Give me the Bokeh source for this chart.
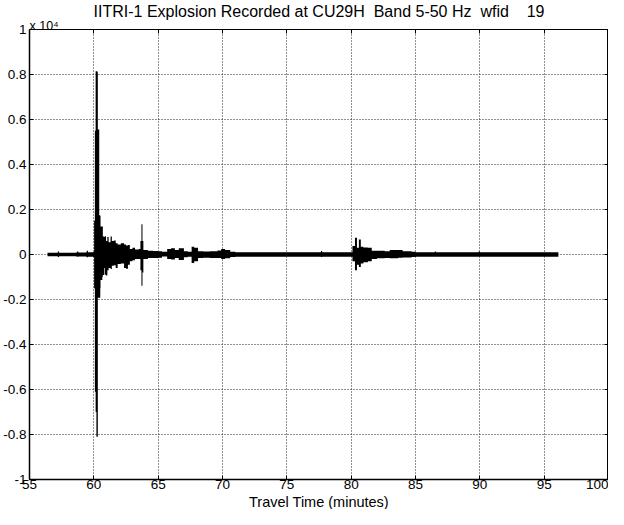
from bokeh.plotting import figure
from bokeh.models import FixedTicker, LinearAxis, Title, ColumnDataSource, Range1d
from bokeh.embed import file_html
from bokeh.resources import INLINE

# Envelope of the recorded trace (travel time in minutes, counts)
time_min = [56.40, 57.10, 57.20, 57.30, 58.60, 58.70, 58.80, 59.40, 59.45, 59.55,
            59.95, 60.02, 60.08, 60.14, 60.20, 60.28, 60.31, 60.40, 60.42, 60.50,
            60.52, 60.66, 60.70, 60.80, 60.85, 60.95, 61.05, 61.15, 61.30, 61.40,
            61.55, 61.70, 61.85, 62.10, 62.35, 62.50, 62.65, 62.80, 63.00, 63.20,
            63.50, 63.62, 63.70, 63.78, 63.85, 64.20, 64.60, 65.00, 65.30, 65.70,
            66.00, 66.30, 66.60, 67.00, 67.30, 67.60, 67.80, 68.10, 68.50, 69.00,
            69.60, 69.90, 70.20, 70.60, 71.00, 77.55, 77.65, 77.75, 80.00, 80.10,
            80.30, 80.45, 80.60, 80.75, 80.95, 81.30, 81.60, 82.00, 82.60, 83.00,
            83.65, 84.00, 84.70, 85.00, 86.50, 86.60, 89.90, 90.00, 96.10]
upper = [80, 80, 130, 80, 90, 130, 90, 100, 170, 100,
         110, 1500, 5500, 8150, 8150, 8100, 5560, 5560, 1750, 1700,
         1245, 1245, 800, 780, 810, 600, 780, 550, 800, 600,
         620, 500, 450, 500, 450, 400, 420, 240, 300, 220,
         250, 600, 1350, 600, 200, 170, 160, 150, 120, 250,
         280, 200, 280, 150, 120, 340, 300, 150, 130, 140,
         180, 240, 200, 120, 100, 95, 160, 95, 95, 380,
         740, 300, 670, 350, 310, 300, 170, 165, 150, 200,
         200, 150, 120, 95, 130, 95, 130, 95, 90]
lower = [-80, -80, -110, -80, -90, -100, -90, -100, -120, -100,
         -110, -1500, -6100, -7000, -8100, -8100, -1920, -1920, -1920, -1500,
         -1130, -985, -915, -600, -900, -930, -700, -600, -640, -500,
         -480, -600, -420, -400, -600, -630, -450, -300, -250, -200,
         -200, -700, -1390, -800, -200, -160, -150, -140, -90, -200,
         -220, -150, -240, -120, -100, -380, -300, -150, -140, -150,
         -150, -195, -170, -110, -100, -95, -110, -95, -95, -300,
         -700, -450, -555, -400, -340, -300, -200, -165, -150, -165,
         -140, -130, -110, -95, -95, -95, -95, -95, -90]

x_ticks = [55, 60, 65, 70, 75, 80, 85, 90, 95, 100]
y_ticks = [-10000, -8000, -6000, -4000, -2000, 0, 2000, 4000, 6000, 8000, 10000]
y_tick_labels = ["-1", "-0.8", "-0.6", "-0.4", "-0.2", "0", "0.2", "0.4", "0.6", "0.8", "1"]

FONT = "Liberation Sans"
NB = "\u00a0"
title_text = "IITRI-1 Explosion Recorded at CU29H" + NB + " Band 5-50 Hz" + NB + " wfid" + NB * 3 + " 19"
x_label = "Travel Time (minutes)"

p = figure(width=608, height=509, x_range=Range1d(55, 100), y_range=Range1d(-10000, 10000),
           output_backend="svg", toolbar_location=None, title=None,
           min_border_left=24, min_border_right=0, min_border_top=0, min_border_bottom=0,
           background_fill_color="white", border_fill_color="white")

p.outline_line_color = "black"
p.outline_line_width = 1
p.outline_line_alpha = 1

src = ColumnDataSource(dict(t=time_min, up=upper, lo=lower))
p.varea_step(x="t", y1="lo", y2="up", source=src, fill_color="black", step_mode="after")

# axes
xa = p.xaxis[0]
xa.ticker = FixedTicker(ticks=x_ticks)
ya = p.yaxis[0]
ya.ticker = FixedTicker(ticks=y_ticks)
ya.major_label_overrides = {t: s for t, s in zip(y_ticks, y_tick_labels)}

for ax in (xa, ya):
    ax.major_tick_in = 4
    ax.major_tick_out = 0
    ax.minor_tick_line_color = None
    ax.axis_line_width = 1.5
    ax.axis_line_color = "black"
    ax.major_tick_line_color = "black"
    ax.major_label_text_font = FONT
    ax.major_label_text_font_size = "13.5px"
    ax.major_label_text_color = "black"
xa.major_label_text_line_height = 0.6
xa.major_label_standoff = 0
ya.major_label_standoff = 3

top = LinearAxis(ticker=FixedTicker(ticks=x_ticks), major_tick_in=4, major_tick_out=0,
                 major_label_overrides={t: "" for t in x_ticks},
                 major_label_text_font_size="1px", major_label_standoff=-6,
                 axis_line_color=None, minor_tick_line_color=None, major_tick_line_color="black")
right = LinearAxis(ticker=FixedTicker(ticks=y_ticks), major_tick_in=4, major_tick_out=0,
                   major_label_overrides={t: "" for t in y_ticks},
                   major_label_text_font_size="1px", major_label_standoff=-8,
                   axis_line_color=None, minor_tick_line_color=None, major_tick_line_color="black")
p.add_layout(top, "above")
p.add_layout(right, "right")

# exponent of the y axis, then the main title
p.add_layout(Title(text="x 10\u2074", align="left", text_font=FONT, text_font_size="12.5px",
                   text_font_style="normal", text_color="black", standoff=-6), "above")
p.add_layout(Title(text=title_text, align="center", text_font=FONT, text_font_size="16px",
                   text_font_style="normal", text_color="black", standoff=0), "above")
# x axis label
p.add_layout(Title(text=x_label, align="center", text_font=FONT, text_font_size="14.5px",
                   text_font_style="normal", text_color="black", standoff=0), "below")

p.xgrid[0].ticker = FixedTicker(ticks=x_ticks)
p.ygrid[0].ticker = FixedTicker(ticks=y_ticks)
for g in (p.xgrid[0], p.ygrid[0]):
    g.grid_line_color = "#222222"
    g.grid_line_alpha = 1
    g.grid_line_dash = "1 2"
    g.grid_line_width = 1

open("out.html", "w").write(file_html(p, INLINE))
